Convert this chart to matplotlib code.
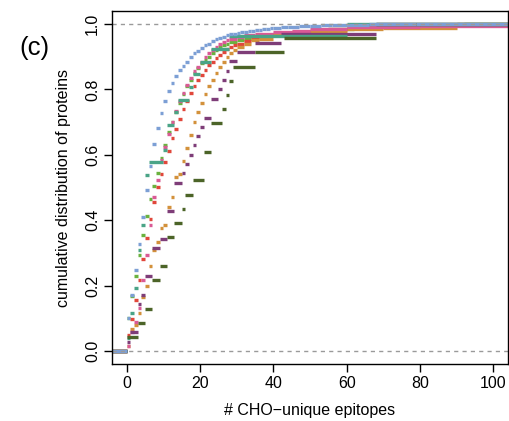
import matplotlib
matplotlib.use("Agg")
import matplotlib.pyplot as plt

plt.rcParams["font.family"] = ["Liberation Sans", "DejaVu Sans"]

# ecdf steps: x where each step starts, y = cumulative fraction from there on
blue_x = [0, 1, 2, 3, 4, 5, 6, 7, 8, 9, 10, 11, 12, 13, 14, 15, 16, 17, 18, 19, 20,
          21, 22, 23, 24, 25, 26, 27, 28, 29, 30, 31, 32, 33, 34, 35, 36, 37, 38, 39,
          40, 42, 44, 47, 50, 53, 56, 60, 66, 79]
blue_y = [0.100, 0.170, 0.248, 0.326, 0.411, 0.493, 0.566, 0.633, 0.683, 0.728, 0.765,
          0.795, 0.819, 0.840, 0.859, 0.873, 0.885, 0.899, 0.910, 0.919, 0.928, 0.935,
          0.940, 0.947, 0.953, 0.957, 0.961, 0.965, 0.968, 0.971, 0.973, 0.975, 0.977,
          0.978, 0.979, 0.981, 0.983, 0.984, 0.986, 0.987, 0.988, 0.990, 0.992, 0.994,
          0.995, 0.996, 0.997, 0.998, 0.999, 1.000]

teal_x = [0, 1, 2, 3, 4, 5, 6, 10, 11, 13, 14, 17, 18, 20, 23, 28, 60]
teal_y = [0.040, 0.116, 0.193, 0.308, 0.385, 0.539, 0.577, 0.615, 0.692, 0.731, 0.769,
          0.808, 0.846, 0.885, 0.923, 0.962, 1.000]

green_x = [0, 1, 2, 3, 4, 5, 6, 7, 8, 9, 10, 11, 12, 13, 14, 15, 16, 17, 18, 19, 20,
           21, 22, 23, 24, 25, 26, 27, 28, 30, 32, 34, 36, 40, 45, 50, 55, 62, 70, 80, 92]
green_y = [0.100, 0.169, 0.231, 0.293, 0.354, 0.412, 0.464, 0.506, 0.545, 0.590, 0.630,
           0.670, 0.700, 0.730, 0.760, 0.785, 0.810, 0.830, 0.850, 0.865, 0.880, 0.890,
           0.900, 0.910, 0.920, 0.930, 0.935, 0.940, 0.945, 0.950, 0.955, 0.960, 0.965,
           0.970, 0.975, 0.980, 0.985, 0.990, 0.993, 0.996, 1.000]

red_x = [0, 1, 2, 3, 4, 5, 6, 7, 8, 9, 10, 11, 12, 13, 14, 15, 16, 17, 18, 19, 20,
         21, 22, 23, 24, 25, 26, 27, 28, 29, 30, 32, 34, 36, 38, 40, 45, 50, 55, 60, 70, 85]
red_y = [0.048, 0.097, 0.156, 0.216, 0.282, 0.345, 0.403, 0.455, 0.501, 0.542, 0.578,
         0.611, 0.650, 0.680, 0.710, 0.740, 0.765, 0.790, 0.810, 0.830, 0.845, 0.860,
         0.875, 0.885, 0.895, 0.905, 0.915, 0.925, 0.930, 0.935, 0.940, 0.948, 0.955,
         0.960, 0.965, 0.970, 0.975, 0.980, 0.985, 0.990, 0.993, 0.996]

pink_x = [0, 1, 2, 3, 4, 5, 6, 7, 8, 9, 10, 11, 12, 13, 14, 15, 16, 17, 18, 19, 20,
          21, 22, 23, 24, 25, 26, 27, 28, 30, 32, 35, 40, 45, 50, 60, 80]
pink_y = [0.016, 0.058, 0.090, 0.131, 0.218, 0.295, 0.387, 0.471, 0.523, 0.585, 0.625,
          0.665, 0.700, 0.735, 0.765, 0.790, 0.815, 0.835, 0.855, 0.870, 0.885, 0.900,
          0.910, 0.920, 0.930, 0.940, 0.945, 0.950, 0.955, 0.960, 0.965, 0.970, 0.975,
          0.980, 0.985, 0.990, 0.994]

orange_x = [0, 1, 2, 3, 4, 5, 6, 7, 8, 9, 10, 11, 12, 13, 14, 15, 16, 17, 18, 19, 20,
            21, 22, 23, 24, 25, 26, 27, 28, 29, 30, 32, 34, 36, 40, 45, 50, 55, 60, 70, 90]
orange_y = [0.016, 0.067, 0.079, 0.116, 0.164, 0.200, 0.261, 0.309, 0.333, 0.376, 0.387,
            0.442, 0.472, 0.533, 0.540, 0.581, 0.620, 0.660, 0.700, 0.730, 0.760, 0.785,
            0.810, 0.830, 0.850, 0.870, 0.885, 0.900, 0.910, 0.920, 0.930, 0.940, 0.950,
            0.955, 0.965, 0.970, 0.975, 0.980, 0.985, 0.988, 1.000]

purple_x = [0, 1, 3, 4, 5, 7, 9, 11, 13, 15, 16, 17, 18, 19, 20, 21, 23, 25, 26, 27, 28,
            30, 35, 42, 68]
purple_y = [0.029, 0.057, 0.143, 0.171, 0.229, 0.314, 0.343, 0.429, 0.514, 0.543, 0.571,
            0.600, 0.629, 0.657, 0.686, 0.714, 0.771, 0.800, 0.829, 0.857, 0.886, 0.914,
            0.943, 0.971, 1.000]

olive_x = [0, 3, 5, 7, 9, 11, 13, 15, 16, 18, 21, 23, 26, 27, 28, 29, 35, 43, 68]
olive_y = [0.043, 0.087, 0.130, 0.217, 0.261, 0.348, 0.391, 0.435, 0.478, 0.522, 0.609,
           0.696, 0.739, 0.783, 0.826, 0.870, 0.913, 0.957, 1.000]

series = [
    (green_x, green_y, "#6AB23F"),
    (red_x, red_y, "#E1473B"),
    (orange_x, orange_y, "#D3913B"),
    (pink_x, pink_y, "#DA5A95"),
    (purple_x, purple_y, "#7E3D78"),
    (teal_x, teal_y, "#4AA487"),
    (olive_x, olive_y, "#4C6428"),
    (blue_x, blue_y, "#7C9FD5"),
]

fig = plt.figure(figsize=(5.09, 4.21), dpi=100)
ax = fig.add_axes([0.220, 0.135, 0.778, 0.839])

for xs, ys, col in series:
    starts = [-10] + xs
    ends = xs + [200]
    levels = [0.0] + ys
    ax.hlines(levels, starts, ends, colors=col, lw=2.4, capstyle="butt")

ax.axhline(0, color="#9a9a9a", lw=1, ls=(0, (3, 3)))
ax.axhline(1, color="#9a9a9a", lw=1, ls=(0, (3, 3)))

ax.set_xlim(-4, 104)
ax.set_ylim(-0.04, 1.04)
ax.set_xticks([0, 20, 40, 60, 80, 100])
ax.set_yticks([0.0, 0.2, 0.4, 0.6, 0.8, 1.0])
ax.set_yticklabels(["0.0", "0.2", "0.4", "0.6", "0.8", "1.0"], rotation=90, va="center")
ax.tick_params(direction="out", length=5.5, width=1, labelsize=11.5, pad=3)
for s in ax.spines.values():
    s.set_linewidth(1)

ax.set_xlabel("# CHO\u2212unique epitopes", fontsize=11.5, labelpad=9)
ax.set_ylabel("cumulative distribution of proteins", fontsize=11.5, labelpad=10)
fig.text(0.067, 0.886, "(c)", fontsize=18.5, ha="center", va="center")

fig.savefig("out.png", dpi=100)
